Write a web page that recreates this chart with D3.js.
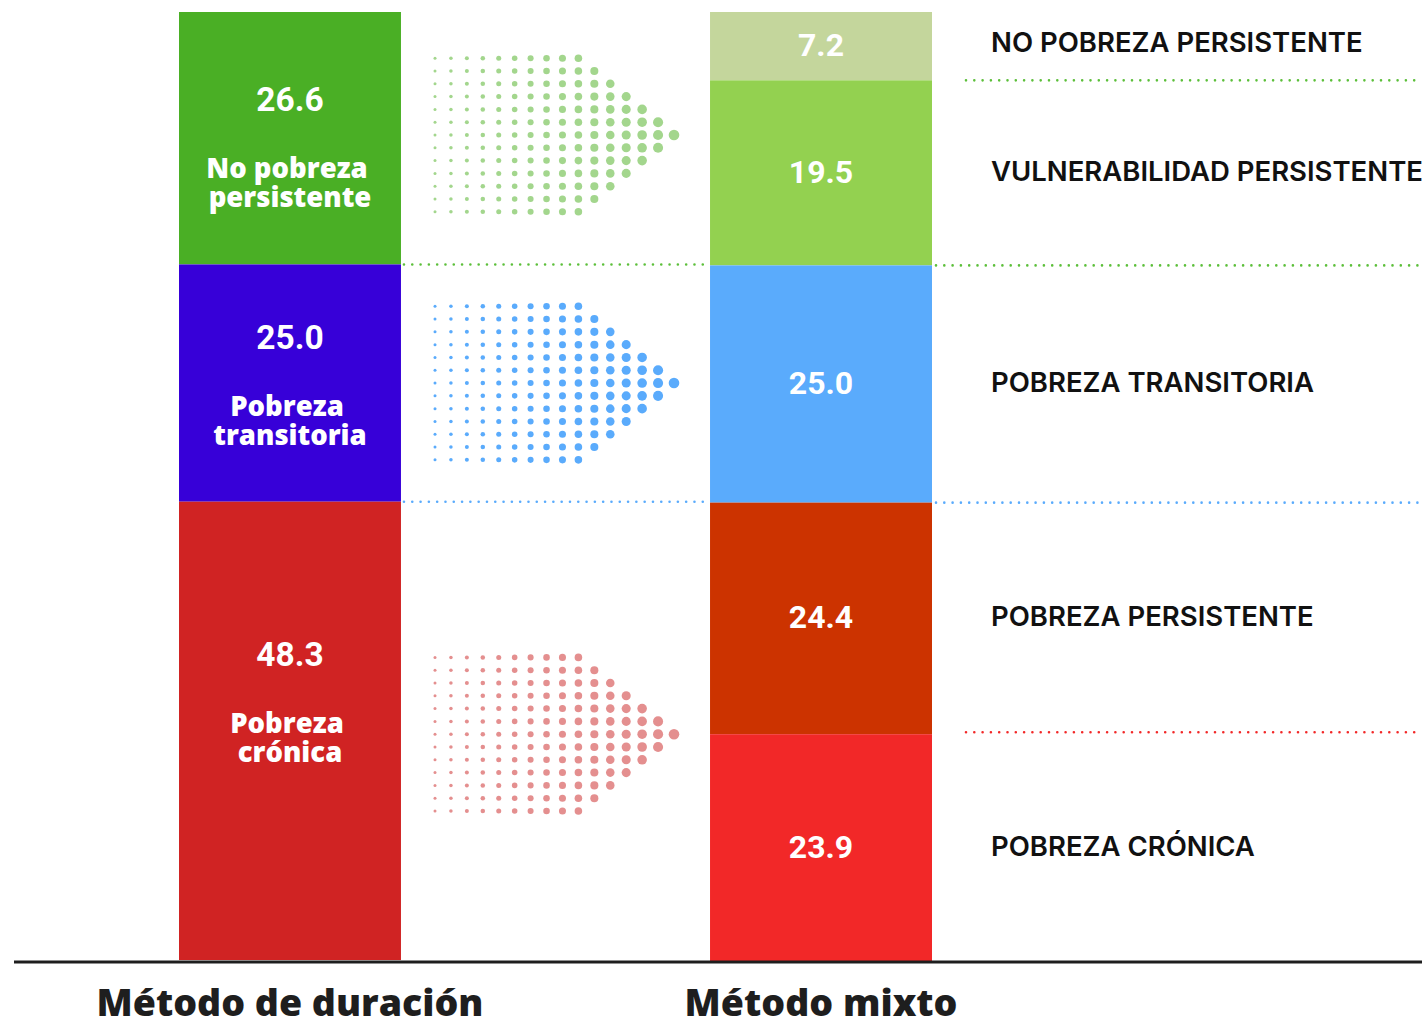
<!DOCTYPE html>
<html>
<head>
<meta charset="utf-8">
<script src="https://cdn.jsdelivr.net/npm/d3@7"></script>
<style>
  html, body { margin: 0; padding: 0; background: #fff; }
  svg { display: block; }
</style>
</head>
<body>
<svg id="chart" width="1422" height="1022"></svg>
<script>
// ---- data ----
const methods = ["Método de duración", "Método mixto"];

const durationCats = ["No pobreza persistente", "Pobreza transitoria", "Pobreza crónica"];
const durationValues = [26.6, 25.0, 48.3];
const durationLabelLines = [["No pobreza", "persistente"], ["Pobreza", "transitoria"], ["Pobreza", "crónica"]];

const mixedCats = ["NO POBREZA PERSISTENTE", "VULNERABILIDAD PERSISTENTE", "POBREZA TRANSITORIA", "POBREZA PERSISTENTE", "POBREZA CRÓNICA"];
const mixedValues = [7.2, 19.5, 25.0, 24.4, 23.9];

// ---- styles ----
const durationColors = ["#4aaf25", "#3700d8", "#d02323"];
const mixedColors = ["#c4d69c", "#93d150", "#5aabfc", "#cc3300", "#f22828"];
const arrowColors = ["#a3d68d", "#5aabfc", "#e48f8f"];

const svg = d3.select("#chart");
const y = d3.scaleLinear().domain([0, 100]).range([12, 961]);
const x = d3.scaleBand().domain(methods).range([179, 932]).paddingInner(0.582).paddingOuter(0);
const bw = x.bandwidth();

function stackOf(vals) {
  let acc = 0;
  return vals.map(v => { const s = { y0: acc, y1: acc + v, v }; acc += v; return s; });
}
const dStack = stackOf(durationValues);
const mStack = stackOf(mixedValues);

const fmt = d3.format(".1f");
const numFont = "Roboto, 'Liberation Sans', sans-serif";
const labFont = "'Open Sans', sans-serif";

// ---- left bars ----
const gL = svg.append("g");
gL.selectAll("rect").data(dStack).join("rect")
  .attr("x", x(methods[0])).attr("width", bw)
  .attr("y", d => y(d.y0)).attr("height", d => y(d.y1) - y(d.y0))
  .attr("fill", (d, i) => durationColors[i]);

const labelShift = [10, 3, -27];
const cxL = x(methods[0]) + bw / 2;
dStack.forEach((d, i) => {
  const cy = (y(d.y0) + y(d.y1)) / 2 + labelShift[i];
  gL.append("text").attr("x", cxL).attr("y", cy - 49)
    .attr("text-anchor", "middle").attr("dominant-baseline", "central")
    .attr("fill", "#fff").attr("font-family", numFont).attr("font-weight", 700)
    .attr("font-size", 33.5).text(fmt(d.v));
  durationLabelLines[i].forEach((ln, j) => {
    gL.append("text").attr("x", cxL - 3 + (j === 1 ? 3 : 0)).attr("y", cy + 19 + j * 29)
      .attr("text-anchor", "middle").attr("dominant-baseline", "central")
      .attr("fill", "#fff").attr("font-family", labFont).attr("font-weight", 800)
      .attr("font-size", 27.5).text(ln);
  });
});

// ---- right bars ----
const gR = svg.append("g");
gR.selectAll("rect").data(mStack).join("rect")
  .attr("x", x(methods[1])).attr("width", bw)
  .attr("y", d => y(d.y0)).attr("height", d => y(d.y1) - y(d.y0))
  .attr("fill", (d, i) => mixedColors[i]);
const cxR = x(methods[1]) + bw / 2;
gR.selectAll("text.num").data(mStack).join("text").attr("class", "num")
  .attr("x", cxR).attr("y", d => (y(d.y0) + y(d.y1)) / 2 - 1)
  .attr("text-anchor", "middle").attr("dominant-baseline", "central")
  .attr("fill", "#fff").attr("font-family", numFont).attr("font-weight", 700)
  .attr("font-size", 32).text(d => fmt(d.v));

// right category labels
gR.selectAll("text.cat").data(mStack).join("text").attr("class", "cat")
  .attr("x", 991).attr("y", (d, i) => (y(d.y0) + y(d.y1)) / 2 - (i === 0 ? 2 : 0) - 2)
  .attr("dominant-baseline", "central")
  .attr("fill", "#111").attr("font-family", "Inter, 'Open Sans', sans-serif").attr("font-weight", 600)
  .attr("font-size", 27.5).text((d, i) => mixedCats[i]);

// ---- dotted separators ----
function dotted(x1, x2, yy, color) {
  svg.append("line").attr("x1", x1).attr("x2", x2).attr("y1", yy).attr("y2", yy)
    .attr("stroke", color).attr("stroke-width", 2.6).attr("stroke-linecap", "round")
    .attr("stroke-dasharray", "0 8.3");
}
const xLR = x(methods[0]) + bw, xRL = x(methods[1]), xRR = x(methods[1]) + bw;
dotted(xLR + 3, xRL - 3, y(dStack[0].y1), "#5cbf3a");
dotted(xRR + 4, 1422, y(mStack[1].y1), "#5cbf3a");
dotted(966, 1422, y(mStack[0].y1), "#5cbf3a");
dotted(xLR + 3, xRL - 3, y(dStack[1].y1), "#5aabfc");
dotted(xRR + 4, 1422, y(mStack[2].y1), "#5aabfc");
dotted(966, 1422, y(mStack[3].y1) - 2, "#f22828");

// ---- dot arrows ----
const nCols = 16, nRows = 13;
const colX = d3.scaleLinear().domain([0, nCols - 1]).range([435, 674]);
const rowStep = 12.8;
const rad = d3.scaleLinear().domain([0, nCols - 1]).range([1.5, 5.3]);
const arrowCenters = [135, y((dStack[1].y0 + dStack[1].y1) / 2), y(mStack[3].y1)];
arrowCenters.forEach((cy, k) => {
  const pts = [];
  for (let c = 0; c < nCols; c++) {
    const cut = Math.max(0, c - 9);
    for (let r = cut; r < nRows - cut; r++) pts.push({ c, r });
  }
  svg.append("g").selectAll("circle").data(pts).join("circle")
    .attr("cx", d => colX(d.c)).attr("cy", d => cy + (d.r - 6) * rowStep)
    .attr("r", d => rad(d.c)).attr("fill", arrowColors[k]);
});

// ---- baseline ----
svg.append("line").attr("x1", 14).attr("x2", 1422).attr("y1", 962).attr("y2", 962)
  .attr("stroke", "#1e1e1e").attr("stroke-width", 3);

// ---- method labels ----
svg.selectAll("text.method").data(methods).join("text").attr("class", "method")
  .attr("x", d => x(d) + bw / 2).attr("y", 1016)
  .attr("text-anchor", "middle")
  .attr("fill", "#1e1e1e").attr("font-family", labFont).attr("font-weight", 800)
  .attr("font-size", 37.5).text(d => d);
</script>
</body>
</html>
